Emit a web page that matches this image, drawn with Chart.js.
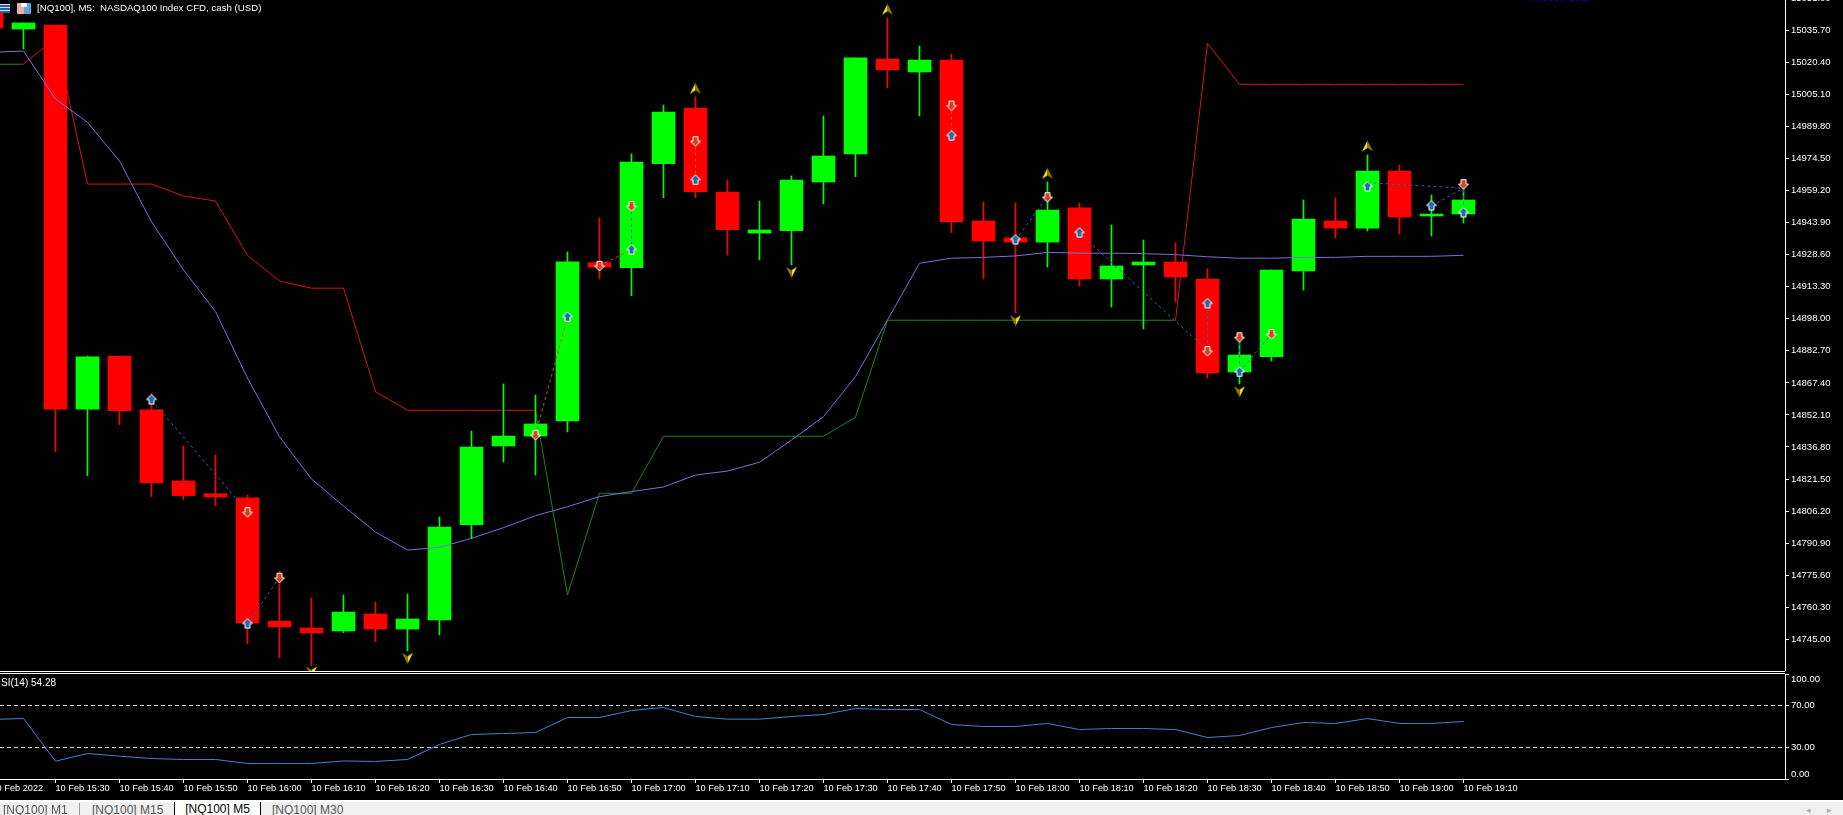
<!DOCTYPE html>
<html>
<head>
<meta charset="utf-8">
<title>NQ100 M5</title>
<script src="https://cdn.jsdelivr.net/npm/chart.js@4"></script>
<style>
    html, body { margin: 0; padding: 0; background: #000; overflow: hidden; }
    body { width: 1843px; height: 815px; position: relative; font-family: "Liberation Sans", sans-serif; }
    canvas { position: absolute; left: 0; }
    #mainChart { top: 0; }
    #rsiChart { top: 673px; }
    .abs { position: absolute; white-space: pre; }
    .sep { position: absolute; left: 0; background: #fff; height: 1px; }
    #title { left: 37px; top: 1px; color: #fff; font-size: 9.7px; line-height: 13px; }
    #pivot { left: 1531px; top: -8px; color: #0000c8; font-size: 11px; line-height: 11px; font-weight: bold; }
    #rsiLabel { left: 1px; top: 676px; color: #fff; font-size: 10px; line-height: 13px; }
    #tabs { position: absolute; left: 0; top: 802px; width: 1843px; height: 13px; background: #f0f0f0; overflow: hidden; }
    #tabs .tab { position: absolute; top: 1px; font-size: 12px; line-height: 15px; color: #555; white-space: pre; }
    #tabs .on { background: #fff; color: #000; top: 0; height: 13px; left: 174px; width: 85px; border-left: 1px solid #000; border-right: 1px solid #000; text-align: center; }
    #tabs .div { position: absolute; left: 79px; top: 1px; width: 1px; height: 12px; background: #999; }
    .icon { position: absolute; }
</style>
</head>
<body>
<canvas id="mainChart" width="1843" height="671"></canvas>
<canvas id="rsiChart" width="1843" height="129"></canvas>

<div class="sep" style="top:671px;width:1785px"></div>
<div class="sep" style="top:673px;width:1785px"></div>
<div class="sep" style="top:800px;width:1843px;height:2px"></div>

<div class="icon" style="left:0;top:4px;width:10px;height:9px;background:repeating-linear-gradient(#cfe0f5 0 1px,#2b5fa8 1px 3px)"></div>
<div class="icon" style="left:17px;top:3px;width:7px;height:11px;background:#e8b0a8"></div>
<div class="icon" style="left:24px;top:3px;width:7px;height:11px;background:#5aa5de"></div>
<div class="icon" style="left:21px;top:3px;width:6px;height:4px;background:#fff"></div>
<div class="abs" id="title">[NQ100], M5:  NASDAQ100 Index CFD, cash (USD)</div>
<div class="abs" id="pivot">Pivot Point</div>
<div class="abs" id="rsiLabel">SI(14) 54.28</div>

<div id="tabs">
    <div class="tab" style="left:3px">[NQ100] M1</div>
    <div class="div"></div>
    <div class="tab" style="left:92px">[NQ100] M15</div>
    <div class="tab on">[NQ100] M5</div>
    <div class="tab" style="left:272px">[NQ100] M30</div>
    <div class="tab" style="left:1806px;font-size:9px;color:#aaa">◂</div>
    <div class="tab" style="left:1827px;font-size:9px;color:#aaa">▸</div>
</div>

<script>
// bars, 5 minutes apart, first one is 10 Feb 15:20
const times = ['15:20','15:25','15:30','15:35','15:40','15:45','15:50','15:55','16:00','16:05','16:10','16:15','16:20','16:25','16:30','16:35','16:40','16:45','16:50','16:55','17:00','17:05','17:10','17:15','17:20','17:25','17:30','17:35','17:40','17:45','17:50','17:55','18:00','18:05','18:10','18:15','18:20','18:25','18:30','18:35','18:40','18:45','18:50','18:55','19:00','19:05','19:10'];
const opens = [15044.1,15036.3,15038.2,14854.9,14880.2,14854.5,14820.6,14814.5,14812.5,14753.7,14750.4,14749.0,14757.1,14749.9,14754.2,14799.7,14837.3,14842.0,14849.2,14924.8,14922.4,14972.0,14998.6,14958.5,14938.9,14940.0,14963.3,14976.7,15022.0,15015.8,15021.5,14944.7,14936.6,14934.6,14950.9,14917.0,14923.7,14925.1,14917.0,14872.6,14879.9,14920.8,14944.7,14941.3,14968.5,14947.1,14948.0];
const closes = [15036.8,15039.2,14854.9,14879.8,14854.1,14819.6,14813.6,14812.9,14752.8,14750.9,14748.0,14758.0,14749.9,14754.7,14798.6,14836.8,14842.0,14847.8,14925.2,14922.6,14972.8,14996.7,14958.7,14940.5,14940.4,14964.2,14975.7,15022.5,15016.8,15021.5,14944.2,14935.1,14934.6,14949.9,14917.0,14923.2,14925.1,14917.9,14872.1,14880.7,14921.3,14945.6,14941.3,14968.5,14946.6,14948.0,14954.7];
const highs = [15044.1,15039.2,15038.2,14880.2,14880.2,14862.4,14837.3,14833.0,14813.9,14777.6,14764.7,14766.2,14762.8,14766.6,14803.4,14844.4,14866.9,14861.6,14929.9,14946.1,14976.7,15000.0,15003.9,14964.2,14954.2,14966.2,14994.8,15022.5,15041.6,15028.2,15024.4,14953.7,14953.3,14963.3,14953.3,14942.8,14935.6,14934.2,14921.8,14889.3,14921.3,14954.7,14955.7,14976.2,14971.4,14957.1,14962.8];
const lows = [15036.8,15026.8,14834.6,14823.1,14847.4,14813.1,14811.5,14808.8,14742.9,14736.2,14732.3,14748.2,14743.9,14739.4,14747.1,14793.0,14829.6,14823.4,14844.0,14917.0,14909.0,14955.8,14955.8,14928.4,14926.1,14923.7,14952.8,14965.8,15008.2,14994.8,14939.1,14917.0,14900.8,14922.7,14913.6,14903.6,14893.1,14906.0,14869.7,14866.9,14877.8,14911.7,14936.6,14939.9,14938.5,14937.5,14943.7];

const maLine = [15025.2,15025.8,15002.9,14991.8,14973.3,14944.3,14921.3,14901.4,14869.7,14841.7,14821.5,14808.6,14796.2,14787.6,14788.9,14793.2,14798.3,14804.0,14808.3,14813.1,14815.5,14817.7,14823.4,14825.3,14829.5,14840.1,14851.3,14870.4,14897.4,14924.5,14926.9,14927.3,14928.0,14929.7,14929.3,14929.3,14929.1,14928.6,14927.6,14926.9,14926.9,14927.3,14927.3,14927.8,14927.8,14927.8,14928.3];
const upperLine = [null,15019.5,15032.0,14962.3,14962.3,14962.3,14956.6,14954.2,14928.3,14916.0,14912.6,14912.6,14863.2,14854.3,14854.3,14854.3,14854.3,14854.3,null,null,null,null,null,null,null,null,null,null,null,null,null,null,null,null,null,null,null,14897.3,15029.5,15009.9,15009.9,15009.9,15009.9,15009.9,15009.9,15009.9,15009.9];
const lowerLine = [15019.5,15019.5,null,null,null,null,null,null,null,null,null,null,null,null,null,null,null,14854.3,14766.2,14814.7,14814.7,14841.9,14841.9,14841.9,14841.9,14841.9,14841.9,14851.0,14897.3,14897.3,14897.3,14897.3,14897.3,14897.3,14897.3,14897.3,14897.3,14897.3,null,null,null,null,null,null,null,null,null];

const rsiValues = [56.7,57.6,17.0,24.3,21.7,19.5,18.6,18.6,14.8,14.8,14.8,17.2,16.7,18.6,32.9,42.4,43.3,44.3,58.6,58.6,65.2,68.1,59.5,57.0,57.0,59.5,61.4,67.1,66.2,66.2,51.9,50.0,50.0,52.9,47.1,48.1,48.1,47.1,39.5,41.4,49.0,53.8,52.9,57.6,52.9,52.9,54.8];
const rsiLevels = [70, 30];

// trade arrows
const buyBars = [5,8,18,20,22,30,32,34,38,39,43,45,46];
const buyPrices = [14859.2,14752.3,14898.7,14930.8,14964.1,14985.2,14935.6,14938.9,14905.1,14872.5,14960.9,14951.8,14948.5];
const sellBars = [8,9,17,19,20,22,30,33,38,39,40,46];
const sellPrices = [14805.9,14774.6,14842.7,14923.5,14952.0,14983.0,15000.0,14956.3,14882.8,14889.4,14890.9,14962.5];

// fractal arrows
const fractalUpBars = [22,28,30,33,43];
const fractalUpPrices = [15008.0,15045.7,15052.8,14967.4,14980.5];
const fractalDownBars = [10,13,25,32,39];
const fractalDownPrices = [14729.4,14735.9,14920.2,14897.1,14863.2];

// dashed trade links, null breaks the line
const blueLinkBars = [5,8,null,8,9,null,20,20,null,32,33,null,34,38,null,38,38,null,39,39,null,39,40,null,43,46,null,45,46,null,46,46];
const blueLinkPrices = [14859.2,14805.9,null,14752.3,14774.6,null,14952.0,14930.8,null,14935.6,14956.3,null,14938.9,14882.8,null,14905.1,14882.8,null,14889.4,14872.5,null,14872.5,14890.9,null,14963.0,14960.3,null,14951.8,14960.3,null,14962.5,14948.5];
const redLinkBars = [17,18,null,19,20,null,22,22,null,30,30];
const redLinkPrices = [14842.7,14898.7,null,14923.5,14930.8,null,14983.0,14964.1,null,15000.0,14985.2];

const priceTicks = [15051.00,15035.70,15020.40,15005.10,14989.80,14974.50,14959.20,14943.90,14928.60,14913.30,14898.00,14882.70,14867.40,14852.10,14836.80,14821.50,14806.20,14790.90,14775.60,14760.30,14745.00];
const rsiTicks = [100,70,30,0];
const dayLabel = '10 Feb';
const yearLabel = '10 Feb 2022';

const FONT = 'Liberation Sans';
const WHITE = '#ffffff';
const X_MIN = 0.265625;
const X_MAX = 56.046875;
const Y_MAX = 15050.16;
const Y_MIN = 14729.87;

Chart.defaults.font.family = FONT;
Chart.defaults.animation = false;
Chart.defaults.devicePixelRatio = 1;

function arrowIcon(up, fill) {
    const c = document.createElement('canvas');
    c.width = 13;
    c.height = 13;
    const ctx = c.getContext('2d');
    if (!up) {
        ctx.translate(0, 13);
        ctx.scale(1, -1);
    }
    ctx.beginPath();
    ctx.moveTo(6.5, 1);
    ctx.lineTo(11.5, 6);
    ctx.lineTo(9, 6);
    ctx.lineTo(9, 10.5);
    ctx.lineTo(4, 10.5);
    ctx.lineTo(4, 6);
    ctx.lineTo(1.5, 6);
    ctx.closePath();
    ctx.fillStyle = fill;
    ctx.fill();
    ctx.strokeStyle = WHITE;
    ctx.lineWidth = 1;
    ctx.stroke();
    return c;
}

function fractalIcon(up) {
    const c = document.createElement('canvas');
    c.width = 13;
    c.height = 12;
    const ctx = c.getContext('2d');
    if (!up) {
        ctx.translate(13, 12);
        ctx.scale(-1, -1);
    }
    ctx.beginPath();
    ctx.moveTo(6.5, 0.5);
    ctx.lineTo(1, 11.5);
    ctx.lineTo(6.5, 8);
    ctx.closePath();
    ctx.fillStyle = '#f5e400';
    ctx.fill();
    ctx.beginPath();
    ctx.moveTo(6.5, 0.5);
    ctx.lineTo(12, 11.5);
    ctx.lineTo(6.5, 8);
    ctx.closePath();
    ctx.fillStyle = '#8a7a18';
    ctx.fill();
    return c;
}

function pointsOf(xs, ys) {
    return xs.map((x, i) => ({ x: x === null ? null : x, y: ys[i] }));
}

function lineSet(values, color, order) {
    return {
        type: 'line',
        data: values.map((v, i) => ({ x: i, y: v })),
        borderColor: color,
        borderWidth: 1,
        pointRadius: 0,
        tension: 0,
        spanGaps: false,
        order: order
    };
}

function linkSet(xs, ys, color) {
    return {
        type: 'line',
        data: pointsOf(xs, ys),
        borderColor: color,
        borderWidth: 1,
        borderDash: [3, 3],
        pointRadius: 0,
        tension: 0,
        spanGaps: false,
        order: 1
    };
}

function markerSet(xs, ys, icon) {
    return {
        type: 'line',
        data: pointsOf(xs, ys),
        showLine: false,
        pointStyle: icon,
        pointRadius: 7,
        order: 0
    };
}

// labels would otherwise push the plot area in from the canvas edges
function noLabelPadding(scale) {
    scale.paddingTop = 0;
    scale.paddingBottom = 0;
    scale.paddingLeft = 0;
    scale.paddingRight = 0;
}

const candleColors = opens.map((o, i) => closes[i] >= o ? '#00ff00' : '#ff0000');

function axisTickFont() {
    return { family: FONT, size: 9.5 };
}

// Create price chart
new Chart(document.getElementById('mainChart'), {
    data: {
        datasets: [
            {
                type: 'bar',
                data: times.map((t, i) => ({ x: i, y: [opens[i], closes[i]] })),
                backgroundColor: candleColors,
                barThickness: 23,
                grouped: false,
                order: 4
            },
            {
                type: 'bar',
                data: times.map((t, i) => ({ x: i, y: [lows[i], highs[i]] })),
                backgroundColor: candleColors,
                barThickness: 1,
                grouped: false,
                order: 5
            },
            lineSet(upperLine, '#d01818', 6),
            lineSet(lowerLine, '#238023', 6),
            lineSet(maLine, '#7a70d6', 2),
            linkSet(blueLinkBars, blueLinkPrices, '#2f62ad'),
            linkSet(redLinkBars, redLinkPrices, '#c4563f'),
            markerSet(buyBars, buyPrices, arrowIcon(true, '#1f6bb0')),
            markerSet(sellBars, sellPrices, arrowIcon(false, '#d8401f')),
            markerSet(fractalUpBars, fractalUpPrices, fractalIcon(true)),
            markerSet(fractalDownBars, fractalDownPrices, fractalIcon(false))
        ]
    },
    options: {
        responsive: false,
        events: [],
        layout: { autoPadding: false, padding: 0 },
        plugins: { legend: { display: false }, tooltip: { enabled: false } },
        scales: {
            x: { type: 'linear', display: false, offset: false, min: X_MIN, max: X_MAX },
            y: {
                position: 'right',
                min: Y_MIN,
                max: Y_MAX,
                afterFit: scale => { scale.width = 58; noLabelPadding(scale); },
                afterBuildTicks: scale => { scale.ticks = priceTicks.map(v => ({ value: v })); },
                border: { color: WHITE },
                grid: { drawOnChartArea: false, color: WHITE, tickLength: 4 },
                ticks: {
                    color: WHITE,
                    autoSkip: false,
                    padding: 2,
                    font: axisTickFont(),
                    callback: v => v.toFixed(2)
                }
            }
        }
    }
});

// 100.00 and 0.00 sit inside the panel, not on their tick
const rsiEdgeLabels = {
    id: 'rsiEdgeLabels',
    afterDraw(chart) {
        const ctx = chart.ctx;
        const y = chart.scales.y;
        ctx.save();
        ctx.fillStyle = WHITE;
        ctx.font = '9.5px "' + FONT + '"';
        ctx.textBaseline = 'middle';
        ctx.fillText(rsiTicks[0].toFixed(2), y.left + 6, y.getPixelForValue(rsiTicks[0]) + 5);
        ctx.fillText(rsiTicks[3].toFixed(2), y.left + 6, y.getPixelForValue(rsiTicks[3]) - 5);
        ctx.restore();
    }
};

// Create RSI chart
new Chart(document.getElementById('rsiChart'), {
    data: {
        datasets: [
            lineSet(rsiValues, '#4680d4', 1),
            ...rsiLevels.map(level => ({
                type: 'line',
                data: [{ x: X_MIN, y: level }, { x: X_MAX, y: level }],
                borderColor: '#d8d8d8',
                borderWidth: 1,
                borderDash: [4, 3],
                pointRadius: 0,
                order: 2
            }))
        ]
    },
    options: {
        responsive: false,
        events: [],
        layout: { autoPadding: false, padding: { top: 1 } },
        plugins: { legend: { display: false }, tooltip: { enabled: false } },
        scales: {
            x: {
                type: 'linear',
                offset: false,
                min: X_MIN,
                max: X_MAX,
                afterFit: scale => { scale.height = 23; noLabelPadding(scale); },
                afterBuildTicks: scale => {
                    scale.ticks = times.map((t, i) => ({ value: i })).filter(t => t.value % 2 === 0);
                },
                border: { color: WHITE },
                grid: { drawOnChartArea: false, color: WHITE, tickLength: 4 },
                ticks: {
                    color: WHITE,
                    autoSkip: false,
                    maxRotation: 0,
                    align: 'start',
                    padding: 0,
                    font: { family: FONT, size: 9.2 },
                    callback: v => v === 0 ? yearLabel : dayLabel + ' ' + times[v]
                }
            },
            y: {
                position: 'right',
                min: 0,
                max: 100,
                afterFit: scale => { scale.width = 58; noLabelPadding(scale); },
                afterBuildTicks: scale => { scale.ticks = rsiTicks.map(v => ({ value: v })); },
                border: { color: WHITE },
                grid: { drawOnChartArea: false, color: WHITE, tickLength: 4 },
                ticks: {
                    color: WHITE,
                    autoSkip: false,
                    padding: 2,
                    font: axisTickFont(),
                    callback: v => rsiLevels.includes(v) ? v.toFixed(2) : ''
                }
            }
        }
    },
    plugins: [rsiEdgeLabels]
});
</script>
</body>
</html>
